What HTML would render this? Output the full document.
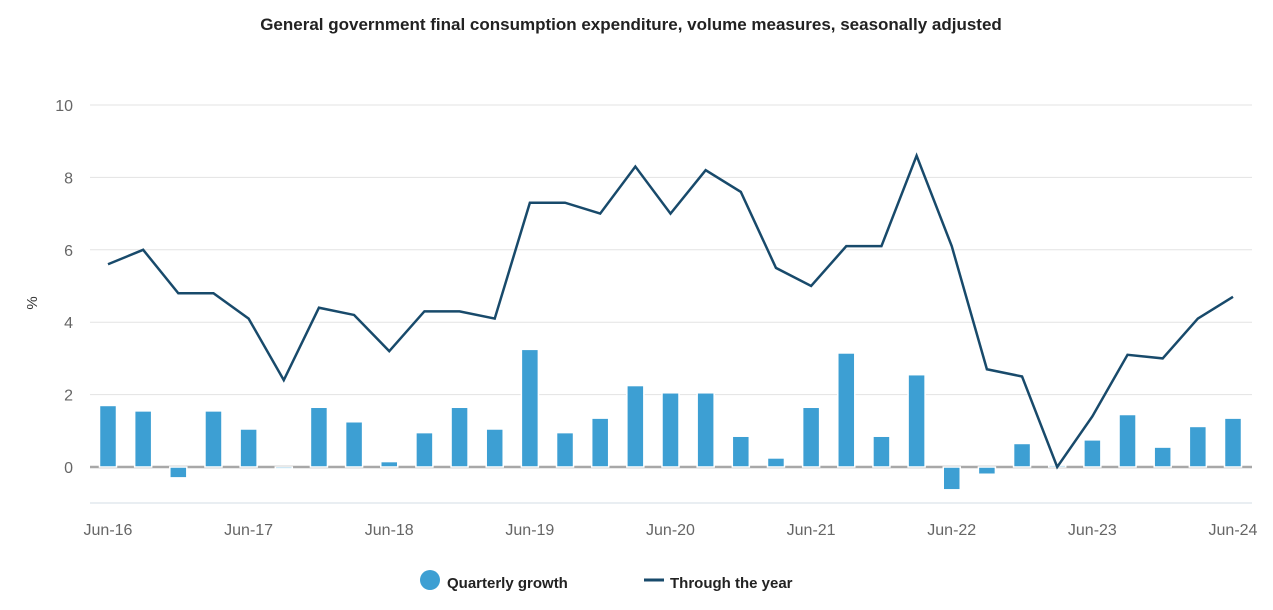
<!DOCTYPE html>
<html><head><meta charset="utf-8">
<style>
html,body{margin:0;padding:0;background:#fff;}
body{width:1273px;height:605px;overflow:hidden;font-family:"Liberation Sans","DejaVu Sans",sans-serif;}
svg text{font-family:"Liberation Sans","DejaVu Sans",sans-serif;}
</style></head>
<body>
<svg id="chart" width="1273" height="605" xmlns="http://www.w3.org/2000/svg">
<text x="631" y="30" text-anchor="middle" font-size="17" font-weight="600" fill="#222">General government final consumption expenditure, volume measures, seasonally adjusted</text>
<text transform="translate(37,303) rotate(-90)" text-anchor="middle" font-size="15" fill="#333">%</text>
<g id="grid"></g>
<g id="bars"></g>
<g id="lineg"></g>
<g id="xlabels"></g>
<g>
<circle cx="430" cy="580" r="10" fill="#3d9fd3"/>
<text x="447" y="588" font-size="15" font-weight="600" fill="#222">Quarterly growth</text>
<line x1="644" y1="580" x2="664" y2="580" stroke="#184a6b" stroke-width="3"/>
<text x="670" y="588" font-size="15" font-weight="600" fill="#222">Through the year</text>
</g>
</svg>
<script>
const quarterly = [1.7,1.55,-0.3,1.55,1.05,-0.05,1.65,1.25,0.15,0.95,1.65,1.05,3.25,0.95,1.35,2.25,2.05,2.05,0.85,0.25,1.65,3.15,0.85,2.55,-0.63,-0.2,0.65,0.05,0.75,1.45,0.55,1.12,1.35];
const throughYear = [5.6,6.0,4.8,4.8,4.1,2.4,4.4,4.2,3.2,4.3,4.3,4.1,7.3,7.3,7.0,8.3,7.0,8.2,7.6,5.5,5.0,6.1,6.1,8.6,6.1,2.7,2.5,0.0,1.4,3.1,3.0,4.1,4.7];
const xLabels = ["Jun-16","Jun-17","Jun-18","Jun-19","Jun-20","Jun-21","Jun-22","Jun-23","Jun-24"];
const yTicks = [0,2,4,6,8,10];

const NS="http://www.w3.org/2000/svg";
const x = i => 108 + i*(1233-108)/(quarterly.length-1);
const y = v => 467 - v*36.2;
function mk(tag, attrs, parent){const e=document.createElementNS(NS,tag);for(const k in attrs)e.setAttribute(k,attrs[k]);parent.appendChild(e);return e;}
const grid=document.getElementById('grid');
yTicks.forEach(t=>{
  if(t!==0){const l=mk('line',{x1:90,x2:1252,y1:y(t),y2:y(t),stroke:'#e3e3e3','stroke-width':1},grid);
  
  }
  const tx=mk('text',{x:73,y:y(t)+6,'text-anchor':'end','font-size':16,fill:'#666'},grid);
  tx.textContent=t;
  
  
});
const zl=mk('line',{x1:90,x2:1252,y1:y(0),y2:y(0),stroke:'#a8a8a8','stroke-width':2.5},grid);


const ax=mk('line',{x1:90,x2:1252,y1:503,y2:503,stroke:'#d3dde6','stroke-width':1},grid);


const bars=document.getElementById('bars');
quarterly.forEach((v,i)=>{
  const y0=y(0),y1=y(v);
  const r=mk('rect',{x:x(i)-8.5,y:Math.min(y0,y1),width:17,height:Math.max(1,Math.abs(y1-y0)),fill:'#3d9fd3',stroke:'#fff','stroke-width':1.5},bars);
  
  
});
const lg=document.getElementById('lineg');
const p=mk('polyline',{points:throughYear.map((v,i)=>x(i)+','+y(v)).join(' '),fill:'none',stroke:'#184a6b','stroke-width':2.5,'stroke-linejoin':'miter'},lg);


const xl=document.getElementById('xlabels');
xLabels.forEach((s,k)=>{
  const t=mk('text',{x:x(k*4),y:535,'text-anchor':'middle','font-size':16,fill:'#666'},xl);
  t.textContent=s;
  
  
});
</script>
</body></html>
